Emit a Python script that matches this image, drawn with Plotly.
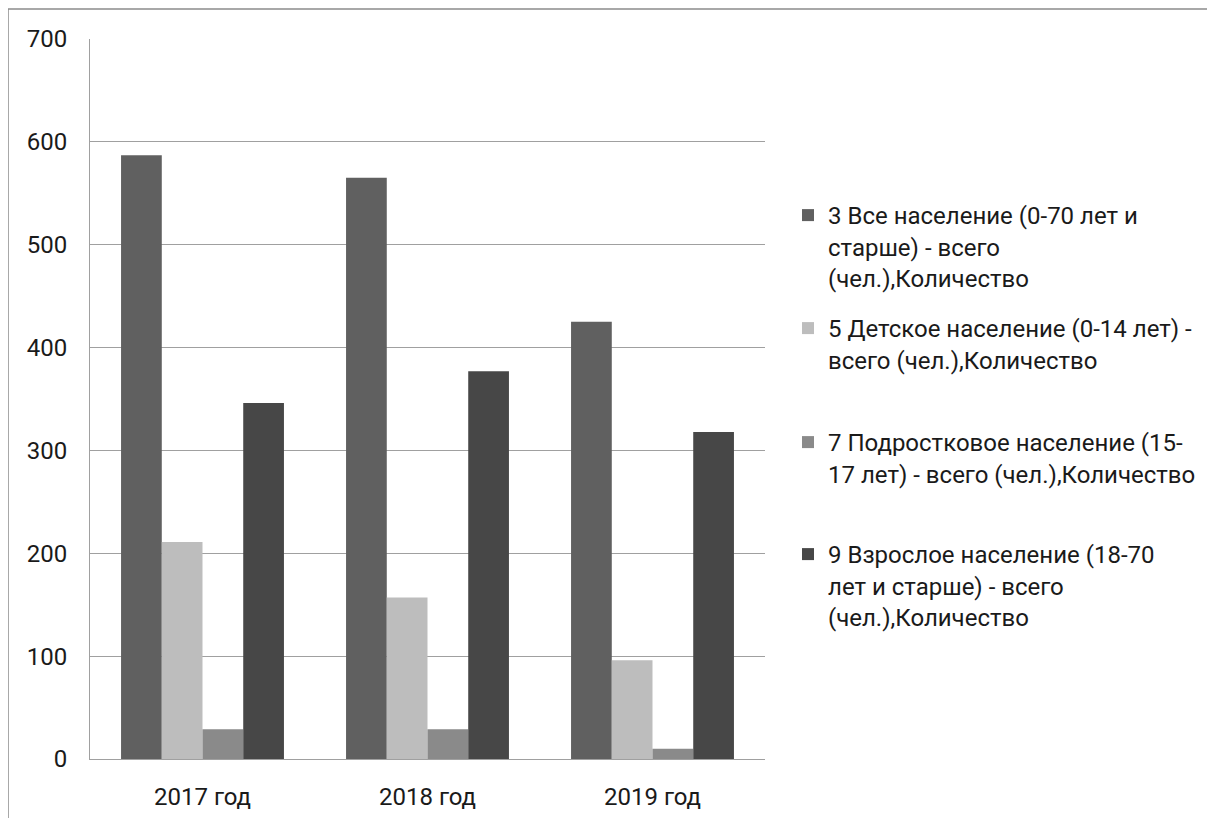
import plotly.graph_objects as go

categories = ["2017 год", "2018 год", "2019 год"]
series_names = [
    "3 Все население (0-70 лет и<br>старше) - всего<br>(чел.),Количество",
    "5 Детское население (0-14 лет) -<br>всего (чел.),Количество",
    "7 Подростковое население (15-<br>17 лет) - всего (чел.),Количество",
    "9 Взрослое население (18-70<br>лет и старше) - всего<br>(чел.),Количество",
]
all_pop = [587, 565, 425]
children = [211, 157, 96]
teens = [29, 29, 10]
adults = [346, 377, 318]
values = [all_pop, children, teens, adults]
colors = ["#606060", "#bdbdbd", "#8a8a8a", "#474747"]
y_ticks = [0, 100, 200, 300, 400, 500, 600, 700]

# page body adds an 8px offset; figure coordinates below are page coords - 8
OFF = 8
W, H = 1215, 818
L, R, T, B = 90 - OFF, 765 - OFF, 39 - OFF, 759 - OFF
FONT = "Roboto"
FS = 24
TXT = "#1a1a1a"

def px_x(px):
    return (px - L) / (R - L)

def px_y(py):
    return (B - py) / (B - T)

fig = go.Figure()
legend_tops = [185, 298, 412, 524]
legend_keys = ["legend", "legend2", "legend3", "legend4"]
for i in range(4):
    fig.add_trace(go.Bar(
        x=categories, y=values[i], name=series_names[i],
        marker=dict(color=colors[i], line=dict(width=0)),
        legend=legend_keys[i], showlegend=True,
    ))

layout_legends = {}
for i, key in enumerate(legend_keys):
    layout_legends[key] = dict(
        x=px_x(780), y=px_y(legend_tops[i]), xanchor="left", yanchor="top",
        font=dict(family=FONT, size=FS, color=TXT),
        bgcolor="rgba(0,0,0,0)", valign="top", itemwidth=30, visible=True,
    )

fig.update_layout(
    width=W, height=H,
    margin=dict(l=L, r=W - R, t=T, b=H - B),
    paper_bgcolor="white", plot_bgcolor="white",
    showlegend=True,
    barmode="group", bargap=0.276, bargroupgap=0,
    font=dict(family=FONT, size=FS, color=TXT),
    **layout_legends,
    xaxis=dict(
        showgrid=False, showline=True, linecolor="#a0a0a0", linewidth=1,
        ticks="", tickfont=dict(family=FONT, size=FS, color=TXT),
        ticklabelstandoff=16,
    ),
    yaxis=dict(
        range=[0, 700], tickvals=y_ticks, showgrid=True, gridcolor="#a0a0a0",
        gridwidth=1, showline=True, linecolor="#a0a0a0", linewidth=1,
        zeroline=False, ticks="", tickfont=dict(family=FONT, size=FS, color=TXT),
        ticklabelstandoff=17,
    ),
    shapes=[dict(
        type="rect", xref="paper", yref="paper",
        x0=px_x(0), x1=px_x(W + 5), y0=px_y(H + 5), y1=px_y(1),
        line=dict(color="#8c8c8c", width=1.5), fillcolor="rgba(0,0,0,0)",
        layer="below",
    )],
)

fig.write_html("out.html")
